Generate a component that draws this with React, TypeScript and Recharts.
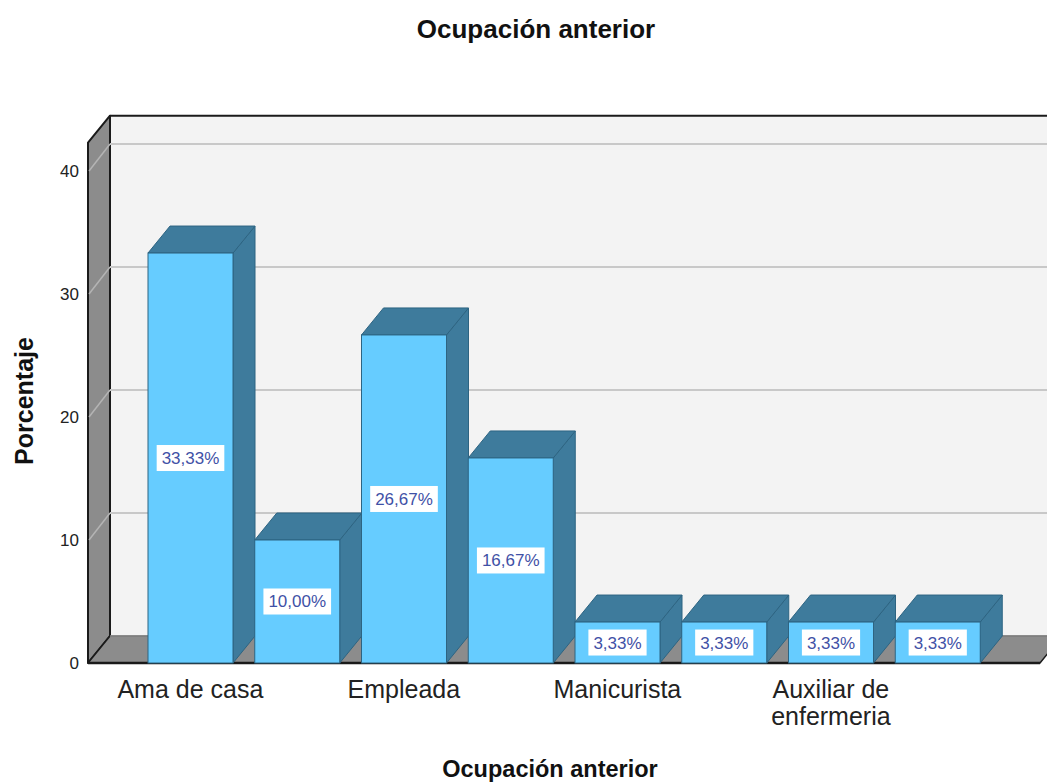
import React from 'react';
import { BarChart, Bar, XAxis, YAxis, ReferenceArea, ReferenceLine, LabelList } from 'recharts';

const categories = ['Ama de casa', '', 'Empleada', '', 'Manicurista', '', 'Auxiliar de enfermeria', ''];
const percentages = [33.33, 10.0, 26.67, 16.67, 3.33, 3.33, 3.33, 3.33];
const yTicks = [0, 10, 20, 30, 40];
const gridValues = [10, 20, 30, 40];
const yMax = 42.3;
const chartTitle = 'Ocupación anterior';
const xTitle = 'Ocupación anterior';
const yTitle = 'Porcentaje';

const data = categories.map((name, i) => ({ key: `c${i}`, name, value: percentages[i] }));

const DX = 22;
const DY = 27;
const FONT = '"Liberation Sans", Arial, Helvetica, sans-serif';
const W = 1047;
const H = 782;

const charW: Record<string, number> = { ',': 0.278, '%': 0.889 };
const textWidth = (s: string, fs: number) =>
  s.split('').reduce((a, c) => a + (charW[c] ?? 0.556), 0) * fs;

const Walls = (props: any) => {
  const { x, y, width, height } = props;
  const b = y + height;
  return (
    <g>
      <rect x={x + DX} y={y - DY} width={width} height={height} fill="#f3f3f3" />
      <line x1={x + DX} y1={y - DY} x2={x + width + DX} y2={y - DY} stroke="#1a1a1a" strokeWidth={2} />
      <polygon
        points={`${x},${b} ${x},${y} ${x + DX},${y - DY} ${x + DX},${b - DY}`}
        fill="#8c8c8c"
        stroke="#1a1a1a"
        strokeWidth={2}
        strokeLinejoin="round"
      />
      <polygon
        points={`${x},${b} ${x + width},${b} ${x + width + DX},${b - DY} ${x + DX},${b - DY}`}
        fill="#8c8c8c"
        stroke="#1a1a1a"
        strokeWidth={1.5}
        strokeLinejoin="round"
      />
      <line x1={x} y1={b} x2={x + width} y2={b} stroke="#1a1a1a" strokeWidth={2.5} />
      <line x1={x + DX} y1={b - DY} x2={x + width + DX} y2={b - DY} stroke="#c8c8c8" strokeWidth={1} />
    </g>
  );
};

const GridLine3D = (props: any) => {
  const { x1, y1, x2 } = props;
  return (
    <g>
      <line x1={x1 + 1} y1={y1} x2={x1 + DX} y2={y1 - DY} stroke="#b4b4b4" strokeWidth={1.5} />
      <line x1={x1 + DX} y1={y1 - DY} x2={x2 + DX} y2={y1 - DY} stroke="#c8c8c8" strokeWidth={2} />
    </g>
  );
};

const Bar3D = (props: any) => {
  const { x, y, width, height } = props;
  if (!height || height <= 0) return null;
  const front = '#66ccff';
  const dark = '#3e7b9c';
  const edge = '#2d6482';
  return (
    <g>
      <polygon
        points={`${x + width},${y} ${x + width + DX},${y - DY} ${x + width + DX},${y + height - DY} ${x + width},${y + height}`}
        fill={dark}
        stroke={edge}
        strokeWidth={1}
      />
      <polygon
        points={`${x},${y} ${x + DX},${y - DY} ${x + width + DX},${y - DY} ${x + width},${y}`}
        fill={dark}
        stroke={edge}
        strokeWidth={1}
      />
      <rect x={x} y={y} width={width} height={height} fill={front} stroke={edge} strokeWidth={1} />
    </g>
  );
};

const ValueLabel = (props: any) => {
  const vb = props.viewBox ?? props;
  const x = vb.x ?? props.x;
  const y = vb.y ?? props.y;
  const width = vb.width ?? props.width;
  const height = vb.height ?? props.height;
  const text = Number(props.value).toFixed(2).replace('.', ',') + '%';
  const fs = 17;
  const bw = textWidth(text, fs) + 10;
  const bh = 26;
  const cx = x + width / 2;
  const cy = y + height / 2;
  return (
    <g>
      <rect x={cx - bw / 2} y={cy - bh / 2} width={bw} height={bh} fill="#ffffff" />
      <text x={cx} y={cy + 6} textAnchor="middle" fontFamily={FONT} fontSize={fs} fill="#3f51a6">
        {text}
      </text>
    </g>
  );
};

const wrap = (s: string, maxChars: number) => {
  const words = s.split(' ');
  const lines: string[] = [];
  let cur = '';
  words.forEach((w) => {
    const cand = cur ? cur + ' ' + w : w;
    if (cand.length > maxChars && cur) {
      lines.push(cur);
      cur = w;
    } else cur = cand;
  });
  if (cur) lines.push(cur);
  return lines;
};

const CategoryTick = (props: any) => {
  const { x, y, payload } = props;
  const idx = Number(String(payload.value).slice(1));
  const label = categories[idx] ?? '';
  if (!label) return null;
  const lines = wrap(label, 12);
  return (
    <text x={x} y={y} textAnchor="middle" fontFamily={FONT} fontSize={25} fill="#222222">
      {lines.map((l, i) => (
        <tspan key={i} x={x} dy={i === 0 ? 35 : 27}>
          {l}
        </tspan>
      ))}
    </text>
  );
};

const ValueTick = (props: any) => {
  const { x, y, payload } = props;
  return (
    <text x={x} y={y + 6} textAnchor="end" fontFamily={FONT} fontSize={17} fill="#222222">
      {payload.value}
    </text>
  );
};

export default function App() {
  return (
    <div style={{ position: 'absolute', left: 0, top: 0, width: W, height: H, background: '#ffffff' }}>
      <BarChart
        width={W}
        height={H}
        data={data}
        margin={{ top: 142.7, right: 7, bottom: 59, left: 0 }}
      >
        <XAxis xAxisId="wall" type="number" domain={[0, 1]} allowDataOverflow hide />
        <XAxis
          dataKey="key"
          padding={{ left: 49, right: 49 }}
          tickLine={false}
          axisLine={false}
          tickSize={0}
          tickMargin={0}
          interval={0}
          height={60}
          tick={<CategoryTick />}
        />
        <YAxis
          type="number"
          domain={[0, yMax]}
          ticks={yTicks}
          width={88}
          tickLine={false}
          axisLine={false}
          tickSize={0}
          tickMargin={9}
          tick={<ValueTick />}
        />
        <ReferenceArea xAxisId="wall" y1={0} y2={yMax} shape={Walls} ifOverflow="visible" />
        {gridValues.map((v) => (
          <ReferenceLine key={v} xAxisId="wall" y={v} shape={GridLine3D} zIndex={150} ifOverflow="visible" />
        ))}
        <Bar dataKey="value" barSize={85} shape={Bar3D} isAnimationActive={false}>
          <LabelList dataKey="value" content={ValueLabel} />
        </Bar>
      </BarChart>
      <svg
        width={W}
        height={H}
        style={{ position: 'absolute', left: 0, top: 0, pointerEvents: 'none' }}
      >
        <text x={536} y={38} textAnchor="middle" fontFamily={FONT} fontWeight="bold" fontSize={26} fill="#111">
          {chartTitle}
        </text>
        <text x={550} y={777} textAnchor="middle" fontFamily={FONT} fontWeight="bold" fontSize={23.5} fill="#111">
          {xTitle}
        </text>
        <text
          x={33}
          y={401}
          textAnchor="middle"
          fontFamily={FONT}
          fontWeight="bold"
          fontSize={25}
          fill="#111"
          transform="rotate(-90 33 401)"
        >
          {yTitle}
        </text>
      </svg>
    </div>
  );
}
